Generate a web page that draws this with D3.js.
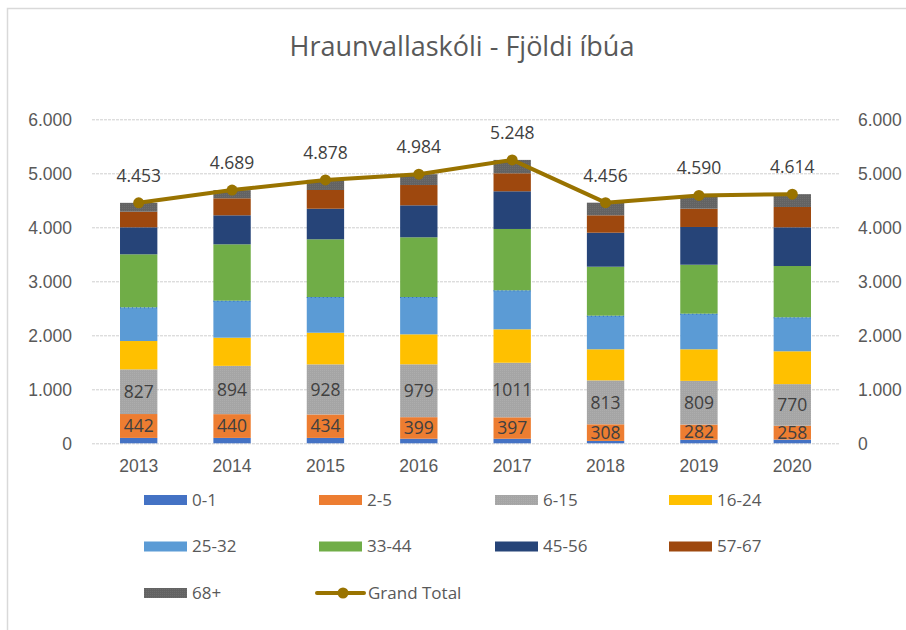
<!DOCTYPE html>
<html lang="is">
<head>
  <meta charset="UTF-8" />
  <title>Hraunvallaskóli - Fjöldi íbúa</title>
  <script src="https://d3js.org/d3.v7.min.js"></script>
  <style>
    body { margin: 0; background: white; font-family: "Open Sans", sans-serif; }
    svg { display: block; }
    .tick text { fill: #595959; font-size: 17.5px; }
  </style>
</head>
<body>

<svg width="906" height="630"></svg>

<script>
  // Gögn
  const years = ["2013", "2014", "2015", "2016", "2017", "2018", "2019", "2020"];
  const groups = ["0-1", "2-5", "6-15", "16-24", "25-32", "33-44", "45-56", "57-67", "68+"];

  const g0_1   = [100, 100, 100, 85, 84, 44, 65, 68];
  const g2_5   = [442, 440, 434, 399, 397, 308, 282, 258];
  const g6_15  = [827, 894, 928, 979, 1011, 813, 809, 770];
  const g16_24 = [525, 522, 586, 555, 619, 576, 585, 608];
  const g25_32 = [624, 685, 661, 691, 722, 622, 659, 629];
  const g33_44 = [982, 1044, 1069, 1106, 1136, 907, 907, 950];
  const g45_56 = [500, 537, 566, 592, 698, 630, 699, 717];
  const g57_67 = [289, 315, 347, 376, 333, 322, 338, 376];
  const g68    = [164, 152, 187, 201, 248, 234, 246, 238];
  const grandTotal = [4453, 4689, 4878, 4984, 5248, 4456, 4590, 4614];

  const yTicks = [0, 1000, 2000, 3000, 4000, 5000, 6000];
  const labelled = ["2-5", "6-15"];

  const seriesValues = [g0_1, g2_5, g6_15, g16_24, g25_32, g33_44, g45_56, g57_67, g68];
  const colors = ["#4472C4", "#ED7D31", "#A5A5A5", "#FFC000", "#5B9BD5", "#70AD47", "#264478", "#9E480E", "#636363"];
  const lineColor = "#997300";

  // tafla fyrir d3.stack
  const table = years.map((y, i) => {
    const row = { year: y };
    groups.forEach((g, k) => row[g] = seriesValues[k][i]);
    return row;
  });

  const is = d3.formatLocale({ decimal: ",", thousands: ".", grouping: [3], currency: ["", ""] });
  const fmt = is.format(",d");

  const svg = d3.select("svg");
  const x0 = 92, x1 = 839, yTop = 119.3, yBot = 443.3;

  // ramminn
  svg.append("rect")
    .attr("x", 7.5).attr("y", 8.5)
    .attr("width", 920).attr("height", 640)
    .attr("fill", "white")
    .attr("stroke", "#d9d9d9").attr("stroke-width", 1.5);

  // mynstur
  const defs = svg.append("defs");
  function dots(id, base, dot) {
    const p = defs.append("pattern").attr("id", id)
      .attr("width", 2).attr("height", 2).attr("patternUnits", "userSpaceOnUse");
    p.append("rect").attr("width", 2).attr("height", 2).attr("fill", base);
    p.append("rect").attr("width", 1).attr("height", 1).attr("fill", dot);
  }
  dots("pat615", "#A5A5A5", "#adadad");
  dots("pat68", "#636363", "#6d6d6d");
  const fillOf = g => g === "6-15" ? "url(#pat615)" : g === "68+" ? "url(#pat68)" : colors[groups.indexOf(g)];

  const x = d3.scaleBand().domain(years).range([x0, x1]).paddingInner(0.6).paddingOuter(0.3);
  const y = d3.scaleLinear().domain([0, 6000]).range([yBot, yTop]);

  // titill
  svg.append("text")
    .attr("x", 462).attr("y", 56)
    .attr("text-anchor", "middle")
    .attr("fill", "#595959")
    .style("font-size", "27px")
    .text("Hraunvallaskóli - Fjöldi íbúa");

  // hnitalínur
  svg.append("g")
    .selectAll("line")
    .data(yTicks)
    .join("line")
    .attr("x1", x0).attr("x2", x1)
    .attr("y1", d => y(d) + 0.5).attr("y2", d => y(d) + 0.5)
    .attr("stroke", "#cfcfcf")
    .attr("stroke-dasharray", "3,1");

  // ásar
  const left = svg.append("g")
    .attr("transform", `translate(${x0 - 20},0)`)
    .call(d3.axisLeft(y).tickValues(yTicks).tickFormat(d => fmt(d)).tickSize(0).tickPadding(0));
  left.select(".domain").remove();
  left.selectAll("text").attr("dy", "0.35em");

  const right = svg.append("g")
    .attr("transform", `translate(${x1 + 19},0)`)
    .call(d3.axisRight(y).tickValues(yTicks).tickFormat(d => fmt(d)).tickSize(0).tickPadding(0));
  right.select(".domain").remove();
  right.selectAll("text").attr("dy", "0.35em");

  const bottom = svg.append("g")
    .attr("transform", `translate(0,${yBot + 13})`)
    .call(d3.axisBottom(x).tickSize(0).tickPadding(0));
  bottom.select(".domain").remove();
  bottom.selectAll("text").attr("dy", "0.9em");

  // súlur
  const stacked = d3.stack().keys(groups)(table);

  const layer = svg.append("g")
    .selectAll("g")
    .data(stacked)
    .join("g")
    .attr("fill", d => fillOf(d.key));

  layer.selectAll("rect")
    .data(d => d)
    .join("rect")
    .attr("x", d => x(d.data.year))
    .attr("width", x.bandwidth())
    .attr("y", d => y(d[1]))
    .attr("height", d => y(d[0]) - y(d[1]));

  // punktalína efst á 25-32
  svg.append("g")
    .selectAll("line")
    .data(stacked[groups.indexOf("25-32")])
    .join("line")
    .attr("x1", d => x(d.data.year)).attr("x2", d => x(d.data.year) + x.bandwidth())
    .attr("y1", d => y(d[1]) + 0.5).attr("y2", d => y(d[1]) + 0.5)
    .attr("stroke", "#2f6fb5").attr("stroke-dasharray", "1,3");

  // merkingar inni í súlum
  stacked.filter(s => labelled.includes(s.key)).forEach(s => {
    svg.append("g")
      .selectAll("text")
      .data(s)
      .join("text")
      .attr("x", d => x(d.data.year) + x.bandwidth() / 2)
      .attr("y", d => (y(d[0]) + y(d[1])) / 2)
      .attr("dy", "0.36em")
      .attr("text-anchor", "middle")
      .attr("fill", "#404040")
      .style("font-size", "17.5px")
      .text(d => d.data[s.key]);
  });

  // heildarlína
  const cx = (d, i) => x(years[i]) + x.bandwidth() / 2;
  const line = d3.line().x((d, i) => cx(d, i)).y(d => y(d));

  svg.append("path")
    .datum(grandTotal)
    .attr("d", line)
    .attr("fill", "none")
    .attr("stroke", lineColor)
    .attr("stroke-width", 4)
    .attr("stroke-linejoin", "round");

  svg.append("g")
    .selectAll("circle")
    .data(grandTotal)
    .join("circle")
    .attr("cx", cx)
    .attr("cy", d => y(d))
    .attr("r", 5.5)
    .attr("fill", lineColor);

  svg.append("g")
    .selectAll("text")
    .data(grandTotal)
    .join("text")
    .attr("x", cx)
    .attr("y", d => y(d) - 21)
    .attr("text-anchor", "middle")
    .attr("fill", "#404040")
    .style("font-size", "17.5px")
    .text(d => fmt(d));

  // skýringar
  const legendItems = groups.concat(["Grand Total"]);
  const colX = [144, 319, 495, 669];
  const rowY = [500, 546.5, 593];

  const legend = svg.append("g")
    .selectAll("g")
    .data(legendItems)
    .join("g")
    .attr("transform", (d, i) => `translate(${colX[i % 4]},${rowY[Math.floor(i / 4)]})`);

  legend.filter(d => d !== "Grand Total")
    .append("rect")
    .attr("x", 0).attr("y", -5)
    .attr("width", 43).attr("height", 10)
    .attr("fill", d => fillOf(d));

  const gt = legend.filter(d => d === "Grand Total");
  gt.append("line")
    .attr("x1", -2).attr("x2", 45).attr("y1", 0).attr("y2", 0)
    .attr("stroke", lineColor).attr("stroke-width", 4).attr("stroke-linecap", "round");
  gt.append("circle").attr("cx", 24).attr("cy", 0).attr("r", 5.5).attr("fill", lineColor);

  legend.append("text")
    .attr("x", d => d === "Grand Total" ? 49 : 48)
    .attr("y", 0)
    .attr("dy", "0.35em")
    .attr("fill", "#595959")
    .style("font-size", "17px")
    .text(d => d);
</script>

</body>
</html>
